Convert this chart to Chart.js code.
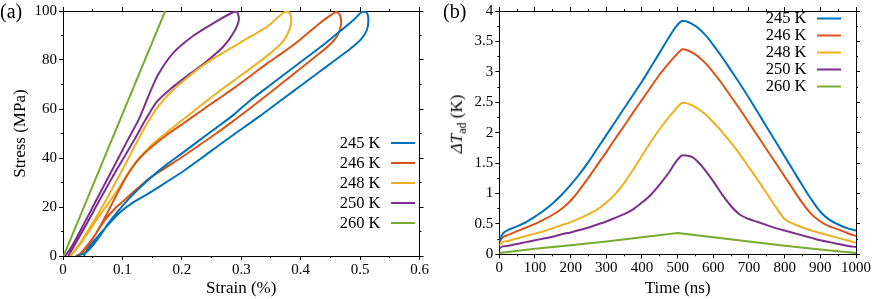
<!DOCTYPE html>
<html><head><meta charset="utf-8">
<script src="https://cdn.jsdelivr.net/npm/chart.js@4.4.1/dist/chart.umd.min.js"></script>
<style>
html,body{margin:0;padding:0;background:#fff;}
#wrap{position:relative;width:872px;height:299px;overflow:hidden;font-family:'Liberation Serif','Times New Roman',serif;}
canvas{position:absolute;top:0;}
.lbl{position:absolute;color:#000;white-space:nowrap;line-height:1;}
</style></head><body>
<div id="wrap">
<canvas id="ca" width="436" height="299" style="left:0"></canvas>
<canvas id="cb" width="436" height="299" style="left:436px"></canvas>
<div class="lbl" style="left:0px;top:1px;font-size:20px">(a)</div>
<div class="lbl" style="left:443px;top:1px;font-size:20px">(b)</div>
<div class="lbl" style="left:458px;top:124px;font-size:17px;transform:translate(-50%,-50%) rotate(-90deg)"><i>ΔT</i><sub style="font-size:12px">ad</sub> (K)</div>
</div>
<script>
// ---------- shared ----------
const tempLabels = ['245 K', '246 K', '248 K', '250 K', '260 K'];
const seriesColors = ['#0072BD', '#D95319', '#EDB120', '#7E2F8E', '#77AC30'];

// ---------- panel (a): stress-strain loops ----------
const strain245 = [0.035,0.045,0.063,0.080,0.096,0.120,0.147,0.175,0.203,0.245,0.287,0.330,0.371,0.400,0.427,0.455,0.483,0.500,0.511,0.514,0.511,0.503,0.490,0.470,0.440,0.410,0.380,0.350,0.315,0.287,0.259,0.231,0.203,0.175,0.150,0.130,0.108,0.080,0.057,0.040,0.024];
const stress245 = [0,4.0,9.2,13.8,17.9,22.2,26.0,30.3,34.7,42.1,49.5,56.9,64.3,69.5,74.4,79.4,84.5,88.0,92.0,96.0,99.3,99.6,96.5,92.5,86.5,81.0,75.5,70.0,63.5,57.6,52.5,47.5,42.4,37.4,32.5,28.0,22.6,14.5,6.5,1.7,0];

const strain246 = [0.026,0.040,0.055,0.070,0.088,0.102,0.125,0.147,0.175,0.203,0.231,0.259,0.287,0.315,0.343,0.371,0.399,0.427,0.448,0.462,0.468,0.466,0.460,0.450,0.430,0.400,0.371,0.343,0.315,0.287,0.259,0.231,0.203,0.175,0.147,0.130,0.115,0.100,0.085,0.070,0.055,0.042,0.030,0.021];
const stress246 = [0,4,9,14.5,19.5,22.5,27.5,32,36.4,40.8,45.5,50.2,55.2,60.3,65.6,71,76.4,81.8,86,90,94.5,98.5,99.6,98.2,94.6,88.5,83.2,78.5,73.4,68.4,63.7,59,54.2,49.5,44.1,40.2,35.5,29.5,22.5,15.5,9,4,1,0];

const strain248 = [0.013,0.028,0.045,0.060,0.075,0.092,0.110,0.125,0.150,0.180,0.214,0.259,0.304,0.345,0.370,0.382,0.384,0.380,0.372,0.343,0.315,0.287,0.259,0.231,0.203,0.180,0.160,0.140,0.122,0.105,0.085,0.066,0.045,0.028,0.012];
const stress248 = [0,4.5,10.5,16,21,27,34,39,45.5,51.5,58,66.5,74.5,82,87.5,93,97.5,99.6,99.5,93.5,89.5,85.5,81.5,77,71.5,66.5,61,53.5,45.5,37.5,28.5,20,11.5,5,0];

const strain250 = [0.009,0.035,0.063,0.091,0.119,0.141,0.158,0.180,0.209,0.242,0.270,0.288,0.296,0.293,0.286,0.260,0.220,0.186,0.160,0.145,0.128,0.110,0.090,0.063,0.035,0.015,0.004];
const stress250 = [0,11,23.5,35.5,47,56.5,63,68,73.5,79.5,85.5,91.5,96.5,99.5,99.5,96,90,83,74,66,56,47.8,38.5,26,13,4,0];

const strain260 = [0.001, 0.172];
const stress260 = [0, 100];

const strainTicks = [0, 0.1, 0.2, 0.3, 0.4, 0.5, 0.6];
const strainTickLabels = ['0', '0.1', '0.2', '0.3', '0.4', '0.5', '0.6'];
const stressTicks = [0, 20, 40, 60, 80, 100];
const stressTickLabels = ['0', '20', '40', '60', '80', '100'];

// ---------- panel (b): adiabatic temperature change vs time ----------
const timeNs = [0,10,25,50,75,100,125,150,175,200,225,250,275,300,325,350,375,400,425,450,475,495,515,540,560,580,600,625,650,675,700,725,750,775,800,825,850,875,900,925,950,975,1000];
const dT245 = [0.22,0.34,0.40,0.46,0.53,0.62,0.72,0.84,0.98,1.14,1.32,1.52,1.74,1.96,2.18,2.40,2.62,2.84,3.08,3.32,3.56,3.74,3.84,3.79,3.71,3.59,3.44,3.24,3.02,2.80,2.57,2.33,2.09,1.85,1.61,1.37,1.13,0.90,0.70,0.57,0.49,0.43,0.39];
const dT246 = [0.20,0.28,0.32,0.38,0.44,0.50,0.57,0.65,0.75,0.88,1.06,1.26,1.47,1.68,1.90,2.11,2.33,2.54,2.75,2.96,3.14,3.27,3.37,3.32,3.24,3.13,2.99,2.80,2.59,2.38,2.16,1.94,1.72,1.50,1.28,1.06,0.84,0.66,0.54,0.46,0.41,0.35,0.30];
const dT248 = [0.15,0.20,0.22,0.26,0.30,0.34,0.38,0.43,0.48,0.53,0.59,0.66,0.74,0.85,0.99,1.17,1.39,1.62,1.85,2.06,2.25,2.39,2.49,2.45,2.38,2.29,2.17,2.01,1.83,1.64,1.43,1.22,1.00,0.78,0.58,0.50,0.44,0.39,0.35,0.31,0.27,0.23,0.19];
const dT250 = [0.10,0.13,0.14,0.17,0.20,0.23,0.26,0.29,0.33,0.36,0.40,0.44,0.49,0.54,0.60,0.66,0.74,0.85,0.98,1.15,1.34,1.52,1.63,1.60,1.50,1.36,1.20,0.98,0.79,0.65,0.58,0.53,0.48,0.43,0.39,0.35,0.31,0.27,0.23,0.20,0.17,0.14,0.12];
const timeNs260 = [0,100,200,300,400,500,600,700,800,900,1000];
const dT260 = [0.02,0.09,0.15,0.21,0.28,0.35,0.28,0.21,0.14,0.08,0.02];

const timeTicks = [0,100,200,300,400,500,600,700,800,900,1000];
const timeTickLabels = ['0','100','200','300','400','500','600','700','800','900','1000'];
const dTTicks = [0,0.5,1,1.5,2,2.5,3,3.5,4];
const dTTickLabels = ['0','0.5','1','1.5','2','2.5','3','3.5','4'];

// ---------- helpers ----------
const FONT = "'Liberation Serif', 'Times New Roman', serif";
const pts = (xs, ys) => xs.map((x, i) => ({x: x, y: ys[i]}));
const labelFor = (vals, labels) => v => {
  const k = vals.findIndex(t => Math.abs(t - v) < 1e-7);
  return k >= 0 ? labels[k] : '';
};

function frameScales(o) {
  const B = o.box;
  const tickFont = {family: FONT, size: 15};
  const titleFont = {family: FONT, size: 17};
  const grid = len => ({display: true, drawOnChartArea: false, drawTicks: true, tickLength: len, color: '#000', lineWidth: 1});
  const border = on => ({display: on, color: '#000', width: 1});
  const base = (pos, min, max) => ({type: 'linear', position: pos, min: min, max: max, bounds: 'ticks'});
  return {
    x: Object.assign(base('bottom', o.xmin, o.xmax), {
      weight: 1, grid: grid(4), border: border(true),
      ticks: {stepSize: o.xMajor, autoSkip: false, maxRotation: 0, padding: 1, color: '#000', font: tickFont, callback: labelFor(o.xVals, o.xLabels)},
      title: {display: true, text: o.xTitle, color: '#000', font: titleFont, padding: {top: 0, bottom: 0}},
      afterFit: s => { s.height = B.H - B.b; }
    }),
    xm: Object.assign(base('bottom', o.xmin, o.xmax), {
      weight: 0, grid: grid(2), border: border(false),
      ticks: {display: false, stepSize: o.xMinor},
      afterFit: s => { s.height = 0; }
    }),
    y: Object.assign(base('left', o.ymin, o.ymax), {
      weight: 1, grid: grid(4), border: border(true),
      ticks: {stepSize: o.yMajor, autoSkip: false, padding: 2, color: '#000', font: tickFont, callback: labelFor(o.yVals, o.yLabels)},
      title: {display: !!o.yTitle, text: o.yTitle || '', color: '#000', font: titleFont, padding: {top: 10, bottom: 0}},
      afterFit: s => { s.width = B.l; }
    }),
    ym: Object.assign(base('left', o.ymin, o.ymax), {
      weight: 0, grid: grid(2), border: border(false),
      ticks: {display: false, stepSize: o.yMinor},
      afterFit: s => { s.width = 0; }
    }),
    xt: Object.assign(base('top', o.xmin, o.xmax), {
      weight: 1, grid: grid(4), border: border(true),
      ticks: {display: false, stepSize: o.xMajor},
      afterFit: s => { s.height = B.t; }
    }),
    xtm: Object.assign(base('top', o.xmin, o.xmax), {
      weight: 0, grid: grid(2), border: border(false),
      ticks: {display: false, stepSize: o.xMinor},
      afterFit: s => { s.height = 0; }
    }),
    yr: Object.assign(base('right', o.ymin, o.ymax), {
      weight: 1, grid: grid(4), border: border(true),
      ticks: {display: false, stepSize: o.yMajor},
      afterFit: s => { s.width = B.W - B.r; }
    }),
    yrm: Object.assign(base('right', o.ymin, o.ymax), {
      weight: 0, grid: grid(2), border: border(false),
      ticks: {display: false, stepSize: o.yMinor},
      afterFit: s => { s.width = 0; }
    })
  };
}

const sideLegend = {
  id: 'sideLegend',
  afterDraw(chart, args, opts) {
    const ctx = chart.ctx;
    ctx.save();
    ctx.font = opts.fontSize + 'px ' + FONT;
    ctx.textAlign = 'right';
    ctx.textBaseline = 'middle';
    chart.data.datasets.forEach((ds, i) => {
      const y = opts.y0 + i * opts.dy;
      ctx.fillStyle = '#000';
      ctx.fillText(ds.label, opts.textX, y + 0.5);
      ctx.strokeStyle = ds.borderColor;
      ctx.lineWidth = 2;
      ctx.beginPath();
      ctx.moveTo(opts.x1, y);
      ctx.lineTo(opts.x2, y);
      ctx.stroke();
    });
    ctx.restore();
  }
};

function ds(label, color, data, extra) {
  return Object.assign({label: label, data: data, borderColor: color, backgroundColor: color, borderWidth: 2,
    pointRadius: 0, pointHoverRadius: 0, showLine: true, fill: false, xAxisID: 'x', yAxisID: 'y'}, extra || {});
}

// ---------- chart (a) ----------
new Chart(document.getElementById('ca'), {
  type: 'scatter',
  data: {datasets: [
    ds(tempLabels[0], seriesColors[0], pts(strain245, stress245), {tension: 0.25}),
    ds(tempLabels[1], seriesColors[1], pts(strain246, stress246), {tension: 0.25}),
    ds(tempLabels[2], seriesColors[2], pts(strain248, stress248), {tension: 0.25}),
    ds(tempLabels[3], seriesColors[3], pts(strain250, stress250), {tension: 0.25}),
    ds(tempLabels[4], seriesColors[4], pts(strain260, stress260), {tension: 0})
  ]},
  options: {
    responsive: false, animation: false, devicePixelRatio: 1,
    layout: {padding: 0, autoPadding: false},
    plugins: {legend: {display: false}, tooltip: {enabled: false},
      sideLegend: {fontSize: 16.5, textX: 380.5, x1: 391, x2: 415, y0: 143, dy: 20}},
    scales: frameScales({
      box: {W: 436, H: 299, l: 63, r: 419.5, t: 8, b: 256},
      xmin: 0, xmax: 0.6, xMajor: 0.1, xMinor: 0.05, xVals: strainTicks, xLabels: strainTickLabels, xTitle: 'Strain (%)',
      ymin: 0, ymax: 100, yMajor: 20, yMinor: 10, yVals: stressTicks, yLabels: stressTickLabels, yTitle: 'Stress (MPa)'
    })
  },
  plugins: [sideLegend]
});

// ---------- chart (b) ----------
new Chart(document.getElementById('cb'), {
  type: 'scatter',
  data: {datasets: [
    ds(tempLabels[0], seriesColors[0], pts(timeNs, dT245), {cubicInterpolationMode: 'monotone'}),
    ds(tempLabels[1], seriesColors[1], pts(timeNs, dT246), {cubicInterpolationMode: 'monotone'}),
    ds(tempLabels[2], seriesColors[2], pts(timeNs, dT248), {cubicInterpolationMode: 'monotone'}),
    ds(tempLabels[3], seriesColors[3], pts(timeNs, dT250), {cubicInterpolationMode: 'monotone'}),
    ds(tempLabels[4], seriesColors[4], pts(timeNs260, dT260), {tension: 0})
  ]},
  options: {
    responsive: false, animation: false, devicePixelRatio: 1,
    layout: {padding: 0, autoPadding: false},
    plugins: {legend: {display: false}, tooltip: {enabled: false},
      sideLegend: {fontSize: 16.5, textX: 370.5, x1: 381, x2: 405, y0: 18.5, dy: 17}},
    scales: frameScales({
      box: {W: 436, H: 299, l: 63.3, r: 420.5, t: 5, b: 254.3},
      xmin: 0, xmax: 1000, xMajor: 100, xMinor: 50, xVals: timeTicks, xLabels: timeTickLabels, xTitle: 'Time (ns)',
      ymin: 0, ymax: 4, yMajor: 0.5, yMinor: 0.25, yVals: dTTicks, yLabels: dTTickLabels, yTitle: ''
    })
  },
  plugins: [sideLegend]
});
</script>
</body></html>
